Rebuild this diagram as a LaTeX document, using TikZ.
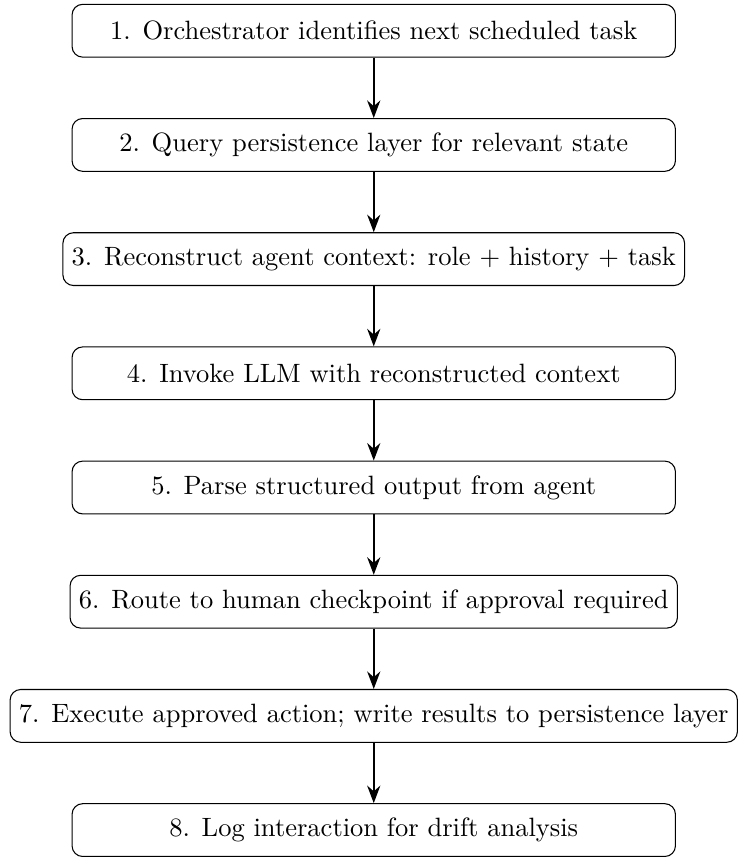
\documentclass[tikz,border=0pt]{standalone}
\usetikzlibrary{positioning,arrows.meta}
\begin{document}
\begin{tikzpicture}[
  stepbox/.style={draw, rounded corners, minimum width=8cm, minimum height=0.7cm, align=center},
  flow/.style={-{Stealth}, thick},
  node distance=0.8cm
]
\node[stepbox] (s1) {1. Orchestrator identifies next scheduled task};
\node[stepbox, below=of s1] (s2) {2. Query persistence layer for relevant state};
\node[stepbox, below=of s2] (s3) {3. Reconstruct agent context: role + history + task};
\node[stepbox, below=of s3] (s4) {4. Invoke LLM with reconstructed context};
\node[stepbox, below=of s4] (s5) {5. Parse structured output from agent};
\node[stepbox, below=of s5] (s6) {6. Route to human checkpoint if approval required};
\node[stepbox, below=of s6] (s7) {7. Execute approved action; write results to persistence layer};
\node[stepbox, below=of s7] (s8) {8. Log interaction for drift analysis};
\draw[flow] (s1) -- (s2);
\draw[flow] (s2) -- (s3);
\draw[flow] (s3) -- (s4);
\draw[flow] (s4) -- (s5);
\draw[flow] (s5) -- (s6);
\draw[flow] (s6) -- (s7);
\draw[flow] (s7) -- (s8);
\coordinate (bbtl) at ([xshift=-141.0pt,yshift=11.6pt]s1.center);
\coordinate (bbr) at ([xshift=135.4pt]s1.center);
\coordinate (bbb) at ([yshift=1.5pt]s8.south);
\path[use as bounding box] (bbtl) rectangle (bbr |- bbb);
\end{tikzpicture}
\end{document}
